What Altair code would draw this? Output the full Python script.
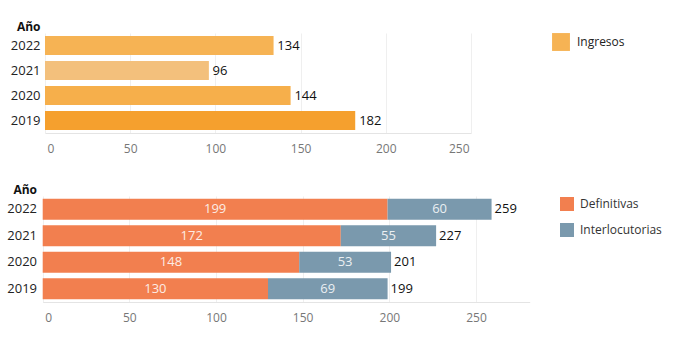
import altair as alt
import pandas as pd

years = ["2019", "2020", "2021", "2022"]
ingresos = [182, 144, 96, 134]
ingresos_colors = ["#F5A02E", "#F6AF4B", "#F3C07C", "#F6B354"]
definitivas = [130, 148, 172, 199]
interlocutorias = [69, 53, 55, 60]
tipos = ["Definitivas", "Interlocutorias"]
tipo_colors = ["#F27F4F", "#7A99AD"]
year_order = ["2022", "2021", "2020", "2019"]
x_ticks = [0, 50, 100, 150, 200, 250]

FONT = "Open Sans"

df_top = pd.DataFrame({"Año": years, "Ingresos": ingresos, "serie": ["Ingresos"] * 4})
rows = []
for i, y in enumerate(years):
    rows.append({"Año": y, "tipo": "Definitivas", "valor": definitivas[i], "orden": 0})
    rows.append({"Año": y, "tipo": "Interlocutorias", "valor": interlocutorias[i], "orden": 1})
df_bot = pd.DataFrame(rows)


def y_axis(pad, title_x):
    return alt.Axis(
        title="Año", titleAngle=0, titleAlign="right", titleBaseline="middle",
        titleX=title_x, titleY=-7, titleFontSize=12, titleFontWeight="bold",
        titleColor="#111", titleFont=FONT,
        labelFontSize=13, labelColor="#222", labelPadding=pad, labelFont=FONT,
        ticks=False, tickSize=0, domain=False, grid=False,
    )


def x_axis():
    return alt.Axis(
        title=None, values=x_ticks, labelFontSize=12, labelColor="#777",
        labelFont=FONT, ticks=False, tickSize=0, labelPadding=10,
        domain=True, domainColor="#e4e4e4", grid=True, gridColor="#efefef",
        labelFlush=True, labelFlushOffset=-2,
    )


# ---------- top chart ----------
top_base = alt.Chart(df_top)
top_y = alt.Y("Año:N", sort=year_order,
              scale=alt.Scale(paddingInner=0.24, paddingOuter=0.12),
              axis=y_axis(5, -5))
top_x = alt.X("Ingresos:Q", scale=alt.Scale(domain=[0, 250], nice=False), axis=x_axis())

top_legend_bars = top_base.mark_bar().encode(
    x=top_x, y=top_y,
    fill=alt.Fill("serie:N", scale=alt.Scale(domain=["Ingresos"], range=[ingresos_colors[3]]),
                  legend=alt.Legend(title=None, orient="none", legendX=507, legendY=0,
                                    symbolType="square", symbolSize=320, symbolStrokeWidth=0,
                                    labelFontSize=12, labelColor="#222", labelFont=FONT,
                                    labelOffset=7)),
)
top_bars = top_base.mark_bar().encode(
    x=top_x, y=top_y,
    color=alt.Color("Año:N", scale=alt.Scale(domain=years, range=ingresos_colors), legend=None),
)
top_text = top_base.mark_text(align="left", baseline="middle", dx=4, fontSize=13,
                              color="#111", font=FONT).encode(
    x=top_x, y=top_y, text="Ingresos:Q")

top = alt.layer(top_legend_bars, top_bars, top_text).properties(width=426, height=100)

# ---------- bottom chart ----------
bot_base = alt.Chart(df_bot)
bot_y = alt.Y("Año:N", sort=year_order,
              scale=alt.Scale(paddingInner=0.21, paddingOuter=0.1),
              axis=y_axis(8.5, -8.5))
bot_scale = alt.Scale(domain=[0, 281], nice=False, range=[-2.3, 484.7])

bot_bars = bot_base.mark_bar().encode(
    x=alt.X("valor:Q", stack="zero", scale=bot_scale, axis=x_axis()),
    y=bot_y,
    color=alt.Color("tipo:N", scale=alt.Scale(domain=tipos, range=tipo_colors),
                    legend=alt.Legend(title=None, orient="none", legendX=515, legendY=1,
                                      symbolType="square", symbolSize=196, symbolStrokeWidth=0,
                                      labelFontSize=12, labelColor="#333", labelFont=FONT,
                                      labelOffset=6, rowPadding=12)),
    order=alt.Order("orden:Q"),
)
bot_inner = bot_base.transform_stack(
    stack="valor", groupby=["Año"], as_=["v0", "v1"], sort=[alt.SortField("orden")]
).transform_calculate(mid="(datum.v0 + datum.v1) / 2").mark_text(
    align="center", baseline="middle", fontSize=13, color="white", opacity=0.85, font=FONT
).encode(
    x=alt.X("mid:Q", scale=bot_scale), y=bot_y, text="valor:Q")
bot_total = bot_base.transform_aggregate(
    total="sum(valor)", groupby=["Año"]
).mark_text(align="left", baseline="middle", dx=3, fontSize=13, color="#111", font=FONT).encode(
    x=alt.X("total:Q", scale=bot_scale), y=bot_y, text="total:Q")

bottom = alt.layer(bot_bars, bot_inner, bot_total).properties(width=487, height=106)

chart = alt.vconcat(top, bottom, spacing=29).resolve_scale(
    color="independent", fill="independent", x="independent", y="independent"
).properties(
    padding={"left": 6, "top": 20, "right": 5, "bottom": 5},
    background="white",
).configure_view(strokeWidth=0, stroke="transparent")

chart.save("out.html", embed_options={"renderer": "svg", "actions": False})
